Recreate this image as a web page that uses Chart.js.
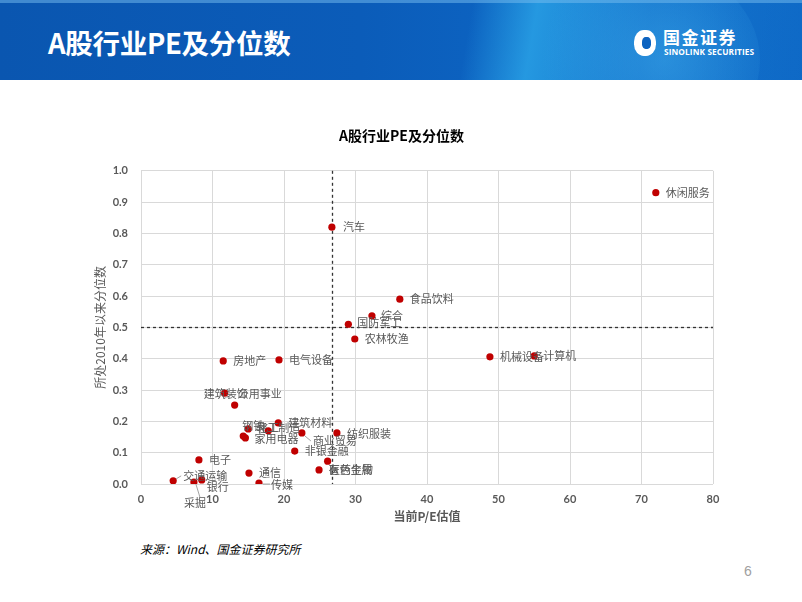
<!DOCTYPE html>
<html>
<head>
<meta charset="utf-8">
<script src="https://cdn.jsdelivr.net/npm/chart.js@4.4.1/dist/chart.umd.min.js"></script>
<style>
  html, body { margin:0; padding:0; background:#fff; }
  body { width:802px; height:602px; position:relative; overflow:hidden; font-family:"Noto Sans CJK SC", sans-serif; }
  #header { position:absolute; left:0; top:0; width:802px; height:80px; z-index:2; overflow:hidden;
    background: linear-gradient(90deg, #0a56b0 0%, #0b5cb9 45%, #0c62c0 60%, #0d68c6 100%); }
  #band1 { position:absolute; left:0; top:0; width:802px; height:80px;
    background: linear-gradient(100deg, rgba(40,160,230,0) 0%, rgba(40,160,230,0.0) 58%, rgba(45,170,235,0.75) 66%, rgba(30,140,220,0.35) 80%, rgba(20,110,200,0.2) 100%); }
  #circ { position:absolute; left:520px; top:-40px; width:240px; height:200px; border-radius:50%;
    background: radial-gradient(circle at 60% 50%, rgba(70,180,240,0.45), rgba(70,180,240,0) 70%); }
  #topline { position:absolute; left:0; top:0; width:802px; height:3px; background:rgba(120,190,240,0.5); }
  #htitle { position:absolute; left:48px; top:23px; color:#fff; font-size:27.5px; font-weight:bold; line-height:38px; letter-spacing:-0.3px; }
  #logoicon { position:absolute; left:634px; top:30px; width:22px; height:26px; border-radius:45%; background:#fff; }
  #logoicon2 { position:absolute; left:642px; top:37px; width:9px; height:12px; border-radius:40%; background:#0c63c0; }
  #logo1 { position:absolute; left:663px; top:27px; color:#fff; font-size:17px; font-weight:bold; line-height:20px; letter-spacing:1.5px; }
  #logo2 { position:absolute; left:664px; top:47px; color:#fff; font-size:8.3px; font-weight:bold; line-height:10px; font-family:"Open Sans", sans-serif; letter-spacing:0.1px; }
  #source { position:absolute; left:140px; top:540px; font-size:12px; font-style:italic; color:#000; line-height:18px; }
  #pagenum { position:absolute; left:744px; top:563px; font-size:14px; color:#a0a0a0; font-family:"Liberation Sans", sans-serif; }
  canvas { position:absolute; left:0; top:0; z-index:1; }
</style>
</head>
<body>
<div id="header">
  <div id="band1"></div>
  <div id="circ"></div>
  <div id="topline"></div>
  <div id="htitle">A股行业PE及分位数</div>
  <div id="logoicon"></div><div id="logoicon2"></div>
  <div id="logo1">国金证券</div>
  <div id="logo2">SINOLINK SECURITIES</div>
</div>
<canvas id="c" width="802" height="602"></canvas>
<div id="source">来源：Wind、国金证券研究所</div>
<div id="pagenum">6</div>
<script>
// ---- data ----
const industries = ['休闲服务','汽车','食品饮料','综合','国防军工','农林牧渔','机械设备','计算机','房地产','电气设备',
  '建筑装饰','公用事业','钢铁','轻工制造','化工','家用电器','建筑材料','商业贸易','纺织服装','非银金融',
  '有色金属','医药生物','电子','交通运输','银行','采掘','通信','传媒'];
const peValues = [72.0, 26.7, 36.2, 32.3, 29.0, 29.9, 48.8, 55.0, 11.5, 19.3,
  11.7, 13.1, 15.0, 17.8, 14.3, 14.6, 19.2, 22.5, 27.4, 21.5,
  26.1, 24.9, 8.1, 4.5, 8.5, 7.4, 15.1, 16.5];
const percentileValues = [0.93, 0.82, 0.59, 0.537, 0.51, 0.463, 0.406, 0.409, 0.393, 0.396,
  0.29, 0.252, 0.176, 0.17, 0.153, 0.147, 0.195, 0.163, 0.163, 0.105,
  0.073, 0.045, 0.077, 0.01, 0.013, 0.006, 0.035, 0.003];
const medianPE = 26.7;
const midPercentile = 0.5;
const xTicks = [0,10,20,30,40,50,60,70,80];
const yTicks = [0,0.1,0.2,0.3,0.4,0.5,0.6,0.7,0.8,0.9,1.0];

// ---- label placement (style only) ----
const labelOffsets = {
  '休闲服务':{dx:10,dy:0}, '汽车':{dx:11,dy:0}, '食品饮料':{dx:10,dy:0}, '综合':{dx:9,dy:0},
  '国防军工':{dx:9,dy:-1}, '农林牧渔':{dx:10,dy:0}, '机械设备':{dx:10,dy:0}, '计算机':{dx:9,dy:0},
  '房地产':{dx:10,dy:0}, '电气设备':{dx:10,dy:0}, '建筑装饰':{dx:-21,dy:1}, '公用事业':{dx:3,dy:-11},
  '钢铁':{dx:-6,dy:-3}, '轻工制造':{dx:-12,dy:-3}, '化工':{dx:14,dy:-8}, '家用电器':{dx:9,dy:1},
  '建筑材料':{dx:10,dy:0}, '商业贸易':{dx:11,dy:8,leader:[3,3,9,8]}, '纺织服装':{dx:10,dy:1}, '非银金融':{dx:10,dy:0},
  '有色金属':{dx:1,dy:9}, '医药生物':{dx:10,dy:0}, '电子':{dx:10,dy:0}, '交通运输':{dx:10,dy:-5,leader:[3,-2,8,-5]},
  '银行':{dx:5,dy:7}, '采掘':{dx:-10,dy:21,leader:[2,2,6,15]}, '通信':{dx:10,dy:0}, '传媒':{dx:12,dy:2,leader:[4,1,11,1]}
};

const points = peValues.map((v,i)=>({x:v, y:percentileValues[i]}));
const CJK = '"Noto Sans CJK SC", "Noto Sans", sans-serif';
const TXT = '#595959';

const refLines = {
  id:'refLines',
  beforeDatasetsDraw(chart){
    const {ctx, chartArea:a, scales:{x,y}} = chart;
    ctx.save();
    ctx.strokeStyle = '#333';
    ctx.lineWidth = 1.3;
    ctx.setLineDash([3,3]);
    const px = Math.round(x.getPixelForValue(medianPE))+0.5;
    ctx.beginPath(); ctx.moveTo(px,a.top); ctx.lineTo(px,a.bottom); ctx.stroke();
    const py = Math.round(y.getPixelForValue(midPercentile))+0.5;
    ctx.beginPath(); ctx.moveTo(a.left,py); ctx.lineTo(a.right,py); ctx.stroke();
    ctx.restore();
  }
};

const pointLabels = {
  id:'pointLabels',
  afterDatasetsDraw(chart){
    const {ctx} = chart;
    const meta = chart.getDatasetMeta(0);
    ctx.save();
    ctx.font = '11px ' + CJK;
    ctx.fillStyle = TXT;
    ctx.textBaseline = 'middle';
    ctx.textAlign = 'left';
    meta.data.forEach((el,i)=>{
      const name = industries[i];
      const o = labelOffsets[name] || {dx:9,dy:0};
      if (o.leader){
        ctx.strokeStyle = '#8c8c8c'; ctx.lineWidth = 0.8;
        ctx.beginPath();
        ctx.moveTo(el.x+o.leader[0], el.y+o.leader[1]);
        ctx.lineTo(el.x+o.leader[2], el.y+o.leader[3]);
        ctx.stroke();
      }
      ctx.fillText(name, el.x+o.dx, el.y+o.dy);
    });
    ctx.restore();
  }
};

new Chart(document.getElementById('c'), {
  type:'scatter',
  data:{ datasets:[{ data:points, backgroundColor:'#c00000', borderColor:'#c00000', pointRadius:3.6, pointHoverRadius:3.6, borderWidth:0 }]},
  options:{
    responsive:false, animation:false, devicePixelRatio:1,
    layout:{ padding:{ left:90, right:89, top:115, bottom:73 } },
    plugins:{
      legend:{display:false}, tooltip:{enabled:false},
      title:{ display:true, text:'A股行业PE及分位数', color:'#000', font:{family:CJK, size:14, weight:'bold'}, padding:{top:12,bottom:27} }
    },
    scales:{
      x:{ type:'linear', min:0, max:80,
        afterBuildTicks(s){ s.ticks = xTicks.map(v=>({value:v})); },
        afterFit(s){ s.height = 45; },
        grid:{ color:'#d9d9d9', lineWidth:1, drawTicks:false },
        border:{ display:false },
        ticks:{ padding:9, color:TXT, font:{family:'Lato, sans-serif', size:11, weight:'bold'}, maxRotation:0, callback:v=>String(v) },
        title:{ display:true, text:'当前P/E估值', color:TXT, font:{family:CJK, size:12, weight:'bold'}, padding:{top:0,bottom:5} }
      },
      y:{ type:'linear', min:0, max:1,
        afterBuildTicks(s){ s.ticks = yTicks.map(v=>({value:v})); },
        afterFit(s){ s.width = 51; },
        grid:{ color:'#d9d9d9', lineWidth:1, drawTicks:false },
        border:{ display:false },
        ticks:{ padding:13, color:TXT, font:{family:'Lato, sans-serif', size:11, weight:'bold'}, callback:v=>Number(v).toFixed(1) },
        title:{ display:true, text:'所处2010年以来分位数', color:TXT, font:{family:CJK, size:12}, padding:{top:3,bottom:0} }
      }
    }
  },
  plugins:[refLines, pointLabels]
});
</script>
</body>
</html>
